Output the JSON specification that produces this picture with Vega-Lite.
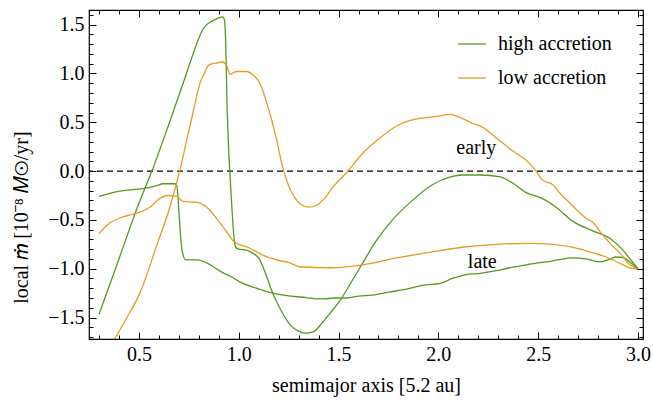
{
  "$schema": "https://vega.github.io/schema/vega-lite/v6.json",
  "width": 554,
  "height": 329,
  "autosize": "none",
  "padding": {"left": 89, "top": 10, "right": 10, "bottom": 64},
  "background": "white",
  "config": {
    "view": {"stroke": "black", "strokeWidth": 1.2},
    "font": "Liberation Serif",
    "text": {"font": "Liberation Serif"},
    "axis": {
      "grid": false,
      "domain": false,
      "tickColor": "black",
      "tickWidth": 1,
      "labelFont": "Liberation Serif",
      "labelFontSize": 20,
      "labelColor": "black",
      "titleFont": "Liberation Serif",
      "titleFontSize": 20,
      "titleFontWeight": "normal",
      "titleColor": "black"
    },
    "legend": {"labelFont": "Liberation Serif", "titleFont": "Liberation Serif"}
  },
  "datasets": {
    "curves": [
      {"a": 0.30, "m": -1.47, "acc": "high accretion", "ph": "early"},
      {"a": 0.40, "m": -0.90, "acc": "high accretion", "ph": "early"},
      {"a": 0.50, "m": -0.33, "acc": "high accretion", "ph": "early"},
      {"a": 0.565, "m": 0.0, "acc": "high accretion", "ph": "early"},
      {"a": 0.65, "m": 0.48, "acc": "high accretion", "ph": "early"},
      {"a": 0.73, "m": 0.95, "acc": "high accretion", "ph": "early"},
      {"a": 0.78, "m": 1.25, "acc": "high accretion", "ph": "early"},
      {"a": 0.80, "m": 1.36, "acc": "high accretion", "ph": "early"},
      {"a": 0.82, "m": 1.45, "acc": "high accretion", "ph": "early"},
      {"a": 0.84, "m": 1.50, "acc": "high accretion", "ph": "early"},
      {"a": 0.86, "m": 1.53, "acc": "high accretion", "ph": "early"},
      {"a": 0.88, "m": 1.55, "acc": "high accretion", "ph": "early"},
      {"a": 0.90, "m": 1.57, "acc": "high accretion", "ph": "early"},
      {"a": 0.92, "m": 1.58, "acc": "high accretion", "ph": "early"},
      {"a": 0.928, "m": 1.55, "acc": "high accretion", "ph": "early"},
      {"a": 0.935, "m": 1.30, "acc": "high accretion", "ph": "early"},
      {"a": 0.94, "m": 0.80, "acc": "high accretion", "ph": "early"},
      {"a": 0.947, "m": 0.35, "acc": "high accretion", "ph": "early"},
      {"a": 0.955, "m": 0.0, "acc": "high accretion", "ph": "early"},
      {"a": 0.965, "m": -0.35, "acc": "high accretion", "ph": "early"},
      {"a": 0.975, "m": -0.65, "acc": "high accretion", "ph": "early"},
      {"a": 0.985, "m": -0.78, "acc": "high accretion", "ph": "early"},
      {"a": 1.00, "m": -0.80, "acc": "high accretion", "ph": "early"},
      {"a": 1.04, "m": -0.81, "acc": "high accretion", "ph": "early"},
      {"a": 1.07, "m": -0.84, "acc": "high accretion", "ph": "early"},
      {"a": 1.10, "m": -0.89, "acc": "high accretion", "ph": "early"},
      {"a": 1.14, "m": -1.08, "acc": "high accretion", "ph": "early"},
      {"a": 1.17, "m": -1.25, "acc": "high accretion", "ph": "early"},
      {"a": 1.21, "m": -1.42, "acc": "high accretion", "ph": "early"},
      {"a": 1.26, "m": -1.58, "acc": "high accretion", "ph": "early"},
      {"a": 1.30, "m": -1.64, "acc": "high accretion", "ph": "early"},
      {"a": 1.33, "m": -1.66, "acc": "high accretion", "ph": "early"},
      {"a": 1.37, "m": -1.65, "acc": "high accretion", "ph": "early"},
      {"a": 1.42, "m": -1.55, "acc": "high accretion", "ph": "early"},
      {"a": 1.46, "m": -1.45, "acc": "high accretion", "ph": "early"},
      {"a": 1.51, "m": -1.32, "acc": "high accretion", "ph": "early"},
      {"a": 1.56, "m": -1.15, "acc": "high accretion", "ph": "early"},
      {"a": 1.61, "m": -0.98, "acc": "high accretion", "ph": "early"},
      {"a": 1.69, "m": -0.71, "acc": "high accretion", "ph": "early"},
      {"a": 1.77, "m": -0.50, "acc": "high accretion", "ph": "early"},
      {"a": 1.87, "m": -0.30, "acc": "high accretion", "ph": "early"},
      {"a": 1.97, "m": -0.14, "acc": "high accretion", "ph": "early"},
      {"a": 2.06, "m": -0.06, "acc": "high accretion", "ph": "early"},
      {"a": 2.12, "m": -0.04, "acc": "high accretion", "ph": "early"},
      {"a": 2.21, "m": -0.04, "acc": "high accretion", "ph": "early"},
      {"a": 2.31, "m": -0.06, "acc": "high accretion", "ph": "early"},
      {"a": 2.37, "m": -0.12, "acc": "high accretion", "ph": "early"},
      {"a": 2.44, "m": -0.22, "acc": "high accretion", "ph": "early"},
      {"a": 2.52, "m": -0.28, "acc": "high accretion", "ph": "early"},
      {"a": 2.59, "m": -0.37, "acc": "high accretion", "ph": "early"},
      {"a": 2.67, "m": -0.51, "acc": "high accretion", "ph": "early"},
      {"a": 2.77, "m": -0.61, "acc": "high accretion", "ph": "early"},
      {"a": 2.86, "m": -0.69, "acc": "high accretion", "ph": "early"},
      {"a": 2.92, "m": -0.80, "acc": "high accretion", "ph": "early"},
      {"a": 2.96, "m": -0.90, "acc": "high accretion", "ph": "early"},
      {"a": 3.00, "m": -1.00, "acc": "high accretion", "ph": "early"},

      {"a": 0.30, "m": -0.26, "acc": "high accretion", "ph": "late"},
      {"a": 0.35, "m": -0.23, "acc": "high accretion", "ph": "late"},
      {"a": 0.42, "m": -0.20, "acc": "high accretion", "ph": "late"},
      {"a": 0.52, "m": -0.18, "acc": "high accretion", "ph": "late"},
      {"a": 0.59, "m": -0.15, "acc": "high accretion", "ph": "late"},
      {"a": 0.62, "m": -0.13, "acc": "high accretion", "ph": "late"},
      {"a": 0.68, "m": -0.13, "acc": "high accretion", "ph": "late"},
      {"a": 0.69, "m": -0.15, "acc": "high accretion", "ph": "late"},
      {"a": 0.70, "m": -0.40, "acc": "high accretion", "ph": "late"},
      {"a": 0.71, "m": -0.70, "acc": "high accretion", "ph": "late"},
      {"a": 0.72, "m": -0.85, "acc": "high accretion", "ph": "late"},
      {"a": 0.735, "m": -0.91, "acc": "high accretion", "ph": "late"},
      {"a": 0.79, "m": -0.91, "acc": "high accretion", "ph": "late"},
      {"a": 0.84, "m": -0.94, "acc": "high accretion", "ph": "late"},
      {"a": 0.88, "m": -0.99, "acc": "high accretion", "ph": "late"},
      {"a": 0.92, "m": -1.04, "acc": "high accretion", "ph": "late"},
      {"a": 0.96, "m": -1.08, "acc": "high accretion", "ph": "late"},
      {"a": 1.01, "m": -1.14, "acc": "high accretion", "ph": "late"},
      {"a": 1.09, "m": -1.20, "acc": "high accretion", "ph": "late"},
      {"a": 1.17, "m": -1.25, "acc": "high accretion", "ph": "late"},
      {"a": 1.26, "m": -1.28, "acc": "high accretion", "ph": "late"},
      {"a": 1.31, "m": -1.29, "acc": "high accretion", "ph": "late"},
      {"a": 1.42, "m": -1.31, "acc": "high accretion", "ph": "late"},
      {"a": 1.48, "m": -1.30, "acc": "high accretion", "ph": "late"},
      {"a": 1.54, "m": -1.30, "acc": "high accretion", "ph": "late"},
      {"a": 1.60, "m": -1.28, "acc": "high accretion", "ph": "late"},
      {"a": 1.67, "m": -1.27, "acc": "high accretion", "ph": "late"},
      {"a": 1.75, "m": -1.24, "acc": "high accretion", "ph": "late"},
      {"a": 1.84, "m": -1.21, "acc": "high accretion", "ph": "late"},
      {"a": 1.92, "m": -1.17, "acc": "high accretion", "ph": "late"},
      {"a": 2.01, "m": -1.15, "acc": "high accretion", "ph": "late"},
      {"a": 2.07, "m": -1.10, "acc": "high accretion", "ph": "late"},
      {"a": 2.14, "m": -1.06, "acc": "high accretion", "ph": "late"},
      {"a": 2.20, "m": -1.05, "acc": "high accretion", "ph": "late"},
      {"a": 2.29, "m": -1.02, "acc": "high accretion", "ph": "late"},
      {"a": 2.36, "m": -0.99, "acc": "high accretion", "ph": "late"},
      {"a": 2.44, "m": -0.96, "acc": "high accretion", "ph": "late"},
      {"a": 2.50, "m": -0.94, "acc": "high accretion", "ph": "late"},
      {"a": 2.54, "m": -0.93, "acc": "high accretion", "ph": "late"},
      {"a": 2.60, "m": -0.91, "acc": "high accretion", "ph": "late"},
      {"a": 2.67, "m": -0.89, "acc": "high accretion", "ph": "late"},
      {"a": 2.74, "m": -0.90, "acc": "high accretion", "ph": "late"},
      {"a": 2.81, "m": -0.93, "acc": "high accretion", "ph": "late"},
      {"a": 2.86, "m": -0.90, "acc": "high accretion", "ph": "late"},
      {"a": 2.89, "m": -0.88, "acc": "high accretion", "ph": "late"},
      {"a": 2.93, "m": -0.89, "acc": "high accretion", "ph": "late"},
      {"a": 2.97, "m": -0.95, "acc": "high accretion", "ph": "late"},
      {"a": 3.00, "m": -1.00, "acc": "high accretion", "ph": "late"},

      {"a": 0.30, "m": -2.02, "acc": "low accretion", "ph": "early"},
      {"a": 0.37, "m": -1.75, "acc": "low accretion", "ph": "early"},
      {"a": 0.44, "m": -1.50, "acc": "low accretion", "ph": "early"},
      {"a": 0.505, "m": -1.25, "acc": "low accretion", "ph": "early"},
      {"a": 0.588, "m": -0.77, "acc": "low accretion", "ph": "early"},
      {"a": 0.655, "m": -0.37, "acc": "low accretion", "ph": "early"},
      {"a": 0.705, "m": 0.01, "acc": "low accretion", "ph": "early"},
      {"a": 0.74, "m": 0.32, "acc": "low accretion", "ph": "early"},
      {"a": 0.77, "m": 0.59, "acc": "low accretion", "ph": "early"},
      {"a": 0.806, "m": 0.90, "acc": "low accretion", "ph": "early"},
      {"a": 0.83, "m": 1.01, "acc": "low accretion", "ph": "early"},
      {"a": 0.846, "m": 1.08, "acc": "low accretion", "ph": "early"},
      {"a": 0.87, "m": 1.10, "acc": "low accretion", "ph": "early"},
      {"a": 0.90, "m": 1.11, "acc": "low accretion", "ph": "early"},
      {"a": 0.916, "m": 1.12, "acc": "low accretion", "ph": "early"},
      {"a": 0.94, "m": 1.08, "acc": "low accretion", "ph": "early"},
      {"a": 0.956, "m": 0.99, "acc": "low accretion", "ph": "early"},
      {"a": 0.975, "m": 1.01, "acc": "low accretion", "ph": "early"},
      {"a": 0.99, "m": 1.02, "acc": "low accretion", "ph": "early"},
      {"a": 1.04, "m": 1.02, "acc": "low accretion", "ph": "early"},
      {"a": 1.07, "m": 0.99, "acc": "low accretion", "ph": "early"},
      {"a": 1.106, "m": 0.90, "acc": "low accretion", "ph": "early"},
      {"a": 1.14, "m": 0.70, "acc": "low accretion", "ph": "early"},
      {"a": 1.19, "m": 0.32, "acc": "low accretion", "ph": "early"},
      {"a": 1.22, "m": 0.04, "acc": "low accretion", "ph": "early"},
      {"a": 1.25, "m": -0.15, "acc": "low accretion", "ph": "early"},
      {"a": 1.28, "m": -0.27, "acc": "low accretion", "ph": "early"},
      {"a": 1.31, "m": -0.34, "acc": "low accretion", "ph": "early"},
      {"a": 1.35, "m": -0.37, "acc": "low accretion", "ph": "early"},
      {"a": 1.39, "m": -0.35, "acc": "low accretion", "ph": "early"},
      {"a": 1.43, "m": -0.28, "acc": "low accretion", "ph": "early"},
      {"a": 1.47, "m": -0.17, "acc": "low accretion", "ph": "early"},
      {"a": 1.547, "m": 0.0, "acc": "low accretion", "ph": "early"},
      {"a": 1.62, "m": 0.18, "acc": "low accretion", "ph": "early"},
      {"a": 1.707, "m": 0.34, "acc": "low accretion", "ph": "early"},
      {"a": 1.807, "m": 0.48, "acc": "low accretion", "ph": "early"},
      {"a": 1.908, "m": 0.54, "acc": "low accretion", "ph": "early"},
      {"a": 1.99, "m": 0.56, "acc": "low accretion", "ph": "early"},
      {"a": 2.058, "m": 0.58, "acc": "low accretion", "ph": "early"},
      {"a": 2.108, "m": 0.55, "acc": "low accretion", "ph": "early"},
      {"a": 2.17, "m": 0.49, "acc": "low accretion", "ph": "early"},
      {"a": 2.22, "m": 0.45, "acc": "low accretion", "ph": "early"},
      {"a": 2.29, "m": 0.34, "acc": "low accretion", "ph": "early"},
      {"a": 2.37, "m": 0.21, "acc": "low accretion", "ph": "early"},
      {"a": 2.44, "m": 0.11, "acc": "low accretion", "ph": "early"},
      {"a": 2.49, "m": 0.0, "acc": "low accretion", "ph": "early"},
      {"a": 2.52, "m": -0.09, "acc": "low accretion", "ph": "early"},
      {"a": 2.574, "m": -0.14, "acc": "low accretion", "ph": "early"},
      {"a": 2.61, "m": -0.23, "acc": "low accretion", "ph": "early"},
      {"a": 2.66, "m": -0.33, "acc": "low accretion", "ph": "early"},
      {"a": 2.694, "m": -0.40, "acc": "low accretion", "ph": "early"},
      {"a": 2.744, "m": -0.49, "acc": "low accretion", "ph": "early"},
      {"a": 2.77, "m": -0.52, "acc": "low accretion", "ph": "early"},
      {"a": 2.81, "m": -0.62, "acc": "low accretion", "ph": "early"},
      {"a": 2.86, "m": -0.74, "acc": "low accretion", "ph": "early"},
      {"a": 2.91, "m": -0.84, "acc": "low accretion", "ph": "early"},
      {"a": 2.96, "m": -0.96, "acc": "low accretion", "ph": "early"},
      {"a": 2.985, "m": -0.99, "acc": "low accretion", "ph": "early"},
      {"a": 3.00, "m": -1.00, "acc": "low accretion", "ph": "early"},

      {"a": 0.30, "m": -0.64, "acc": "low accretion", "ph": "late"},
      {"a": 0.355, "m": -0.53, "acc": "low accretion", "ph": "late"},
      {"a": 0.42, "m": -0.47, "acc": "low accretion", "ph": "late"},
      {"a": 0.505, "m": -0.42, "acc": "low accretion", "ph": "late"},
      {"a": 0.555, "m": -0.37, "acc": "low accretion", "ph": "late"},
      {"a": 0.605, "m": -0.28, "acc": "low accretion", "ph": "late"},
      {"a": 0.64, "m": -0.25, "acc": "low accretion", "ph": "late"},
      {"a": 0.69, "m": -0.26, "acc": "low accretion", "ph": "late"},
      {"a": 0.72, "m": -0.31, "acc": "low accretion", "ph": "late"},
      {"a": 0.79, "m": -0.32, "acc": "low accretion", "ph": "late"},
      {"a": 0.84, "m": -0.37, "acc": "low accretion", "ph": "late"},
      {"a": 0.906, "m": -0.53, "acc": "low accretion", "ph": "late"},
      {"a": 0.956, "m": -0.67, "acc": "low accretion", "ph": "late"},
      {"a": 0.97, "m": -0.71, "acc": "low accretion", "ph": "late"},
      {"a": 1.056, "m": -0.79, "acc": "low accretion", "ph": "late"},
      {"a": 1.12, "m": -0.86, "acc": "low accretion", "ph": "late"},
      {"a": 1.19, "m": -0.91, "acc": "low accretion", "ph": "late"},
      {"a": 1.256, "m": -0.94, "acc": "low accretion", "ph": "late"},
      {"a": 1.306, "m": -0.98, "acc": "low accretion", "ph": "late"},
      {"a": 1.457, "m": -0.99, "acc": "low accretion", "ph": "late"},
      {"a": 1.62, "m": -0.96, "acc": "low accretion", "ph": "late"},
      {"a": 1.79, "m": -0.89, "acc": "low accretion", "ph": "late"},
      {"a": 1.96, "m": -0.83, "acc": "low accretion", "ph": "late"},
      {"a": 2.12, "m": -0.78, "acc": "low accretion", "ph": "late"},
      {"a": 2.29, "m": -0.75, "acc": "low accretion", "ph": "late"},
      {"a": 2.46, "m": -0.74, "acc": "low accretion", "ph": "late"},
      {"a": 2.574, "m": -0.75, "acc": "low accretion", "ph": "late"},
      {"a": 2.67, "m": -0.78, "acc": "low accretion", "ph": "late"},
      {"a": 2.76, "m": -0.83, "acc": "low accretion", "ph": "late"},
      {"a": 2.84, "m": -0.88, "acc": "low accretion", "ph": "late"},
      {"a": 2.925, "m": -0.96, "acc": "low accretion", "ph": "late"},
      {"a": 2.975, "m": -1.00, "acc": "low accretion", "ph": "late"},
      {"a": 3.00, "m": -1.00, "acc": "low accretion", "ph": "late"}
    ],
    "phaseLabels": [
      {"a": 2.19, "m": 0.235, "label": "early"},
      {"a": 2.22, "m": -0.93, "label": "late"}
    ]
  },
  "layer": [
    {
      "data": {"values": [{"m": 0}]},
      "mark": {"type": "rule", "color": "black", "strokeWidth": 1.2, "strokeDash": [6, 4]},
      "encoding": {
        "y": {"field": "m", "type": "quantitative", "scale": {"domain": [-1.72, 1.65], "nice": false, "zero": false}, "axis": null}
      }
    },
    {
      "data": {"name": "curves"},
      "mark": {"type": "line", "clip": true, "strokeWidth": 1.3, "interpolate": "monotone"},
      "encoding": {
        "x": {
          "field": "a", "type": "quantitative",
          "scale": {"domain": [0.25, 3.025], "nice": false, "zero": false},
          "axis": {
            "orient": "bottom",
            "title": "semimajor axis [5.2 au]",
            "titleFont": "Liberation Serif", "titleFontSize": 20,
            "labelFont": "Liberation Serif", "labelFontSize": 20,
            "titleX": 277, "titleY": 46, "titleBaseline": "middle",
            "values": [0.3, 0.4, 0.5, 0.6, 0.7, 0.8, 0.9, 1.0, 1.1, 1.2, 1.3, 1.4, 1.5, 1.6, 1.7, 1.8, 1.9, 2.0, 2.1, 2.2, 2.3, 2.4, 2.5, 2.6, 2.7, 2.8, 2.9, 3.0],
            "labelExpr": "round(datum.value*10) % 5 === 0 ? format(datum.value, '.1f') : ''",
            "labelPadding": 12,
            "labelOverlap": false,
            "tickSize": {"condition": {"test": "round(datum.value*10) % 5 === 0", "value": -7}, "value": -4}
          }
        },
        "y": {
          "field": "m", "type": "quantitative",
          "scale": {"domain": [-1.72, 1.65], "nice": false, "zero": false},
          "axis": {
            "orient": "left",
            "title": "local 𝑚̇ [10⁻⁸ 𝑀⊙/yr]",
            "titleFont": "Liberation Serif", "titleFontSize": 20,
            "labelFont": "Liberation Serif", "labelFontSize": 20,
            "titleX": -68, "titleY": 207, "titleAngle": -90, "titleBaseline": "middle", "titleAlign": "center",
            "values": [-1.7, -1.6, -1.5, -1.4, -1.3, -1.2, -1.1, -1.0, -0.9, -0.8, -0.7, -0.6, -0.5, -0.4, -0.3, -0.2, -0.1, 0, 0.1, 0.2, 0.3, 0.4, 0.5, 0.6, 0.7, 0.8, 0.9, 1.0, 1.1, 1.2, 1.3, 1.4, 1.5, 1.6],
            "labelExpr": "round(datum.value*10) % 5 === 0 ? format(datum.value, '.1f') : ''",
            "labelPadding": 12,
            "labelOverlap": false,
            "tickSize": {"condition": {"test": "round(datum.value*10) % 5 === 0", "value": -7}, "value": -4}
          }
        },
        "color": {
          "field": "acc", "type": "nominal",
          "scale": {"domain": ["high accretion", "low accretion"], "range": ["#559a1c", "#e39c24"]},
          "legend": {
            "orient": "none", "legendX": 368, "legendY": 19, "title": null, "padding": 0,
            "symbolType": "stroke", "symbolSize": 784, "symbolStrokeWidth": 1.3,
            "labelFont": "Liberation Serif", "labelFontSize": 20, "labelColor": "black",
            "labelOffset": 11, "rowPadding": 9
          }
        },
        "detail": {"field": "ph", "type": "nominal"}
      }
    },
    {
      "data": {"name": "phaseLabels"},
      "mark": {"type": "text", "font": "Liberation Serif", "fontSize": 20, "color": "black", "align": "center", "baseline": "middle"},
      "encoding": {
        "x": {
          "field": "a", "type": "quantitative",
          "scale": {"domain": [0.25, 3.025], "nice": false, "zero": false},
          "axis": {
            "orient": "top", "title": null, "labels": false,
            "values": [0.3, 0.4, 0.5, 0.6, 0.7, 0.8, 0.9, 1.0, 1.1, 1.2, 1.3, 1.4, 1.5, 1.6, 1.7, 1.8, 1.9, 2.0, 2.1, 2.2, 2.3, 2.4, 2.5, 2.6, 2.7, 2.8, 2.9, 3.0],
            "tickSize": {"condition": {"test": "round(datum.value*10) % 5 === 0", "value": -7}, "value": -4}
          }
        },
        "y": {
          "field": "m", "type": "quantitative",
          "scale": {"domain": [-1.72, 1.65], "nice": false, "zero": false},
          "axis": {
            "orient": "right", "title": null, "labels": false,
            "values": [-1.7, -1.6, -1.5, -1.4, -1.3, -1.2, -1.1, -1.0, -0.9, -0.8, -0.7, -0.6, -0.5, -0.4, -0.3, -0.2, -0.1, 0, 0.1, 0.2, 0.3, 0.4, 0.5, 0.6, 0.7, 0.8, 0.9, 1.0, 1.1, 1.2, 1.3, 1.4, 1.5, 1.6],
            "tickSize": {"condition": {"test": "round(datum.value*10) % 5 === 0", "value": -7}, "value": -4}
          }
        },
        "text": {"field": "label", "type": "nominal"}
      }
    }
  ],
  "resolve": {"axis": {"x": "independent", "y": "independent"}}
}
